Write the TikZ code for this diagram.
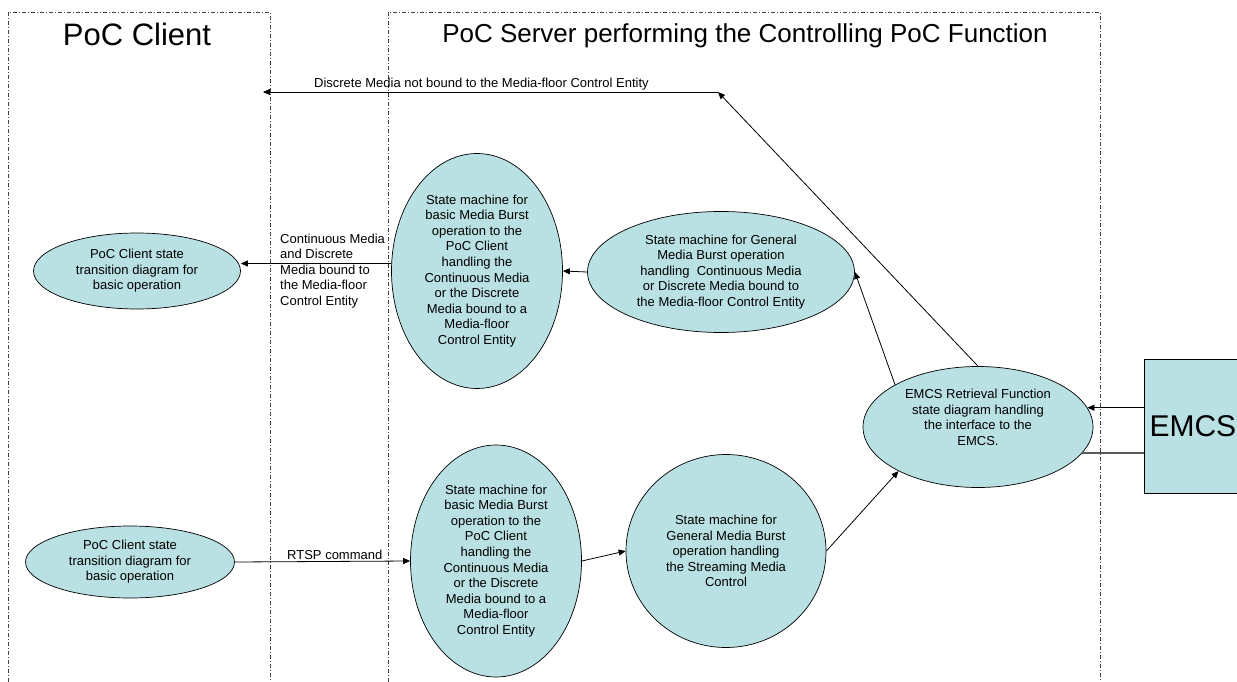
\documentclass[tikz,border=0pt]{standalone}
\usepackage{fontspec}
\setmainfont{Liberation Sans}
\usetikzlibrary{shapes.geometric,arrows.meta}
\definecolor{pocblue}{RGB}{185,224,227}
\newcommand\txt{\fontsize{13}{15.6}\selectfont}
\newcommand\bigtxt{\fontsize{30}{36}\selectfont}

\begin{document}
\begin{tikzpicture}[
      x=1pt, y=-1pt,
      blob/.style = {
        ellipse,
        draw=black,
        line width=0.7pt,
        fill=pocblue,
        inner sep=0pt,
        align=center,
        font=\txt,
      },
      arr/.style = {
        draw=black,
        line width=0.8pt,
        -{Triangle[length=7pt,width=6pt]},
      },
      lane/.style = {
        draw=black!75,
        line width=0.7pt,
        dash pattern=on 4pt off 2pt on 1pt off 2pt,
      },
      lbl/.style = {
        font=\txt,
        inner sep=1pt,
      },
    ]
      \useasboundingbox (0, 0) rectangle (1237, 682);
      % swim lanes
      \draw[lane] (8, 682) -- (8, 12) -- (270, 12) -- (270, 682);
      \draw[lane] (388, 682) -- (388, 12) -- (1100, 12) -- (1100, 682);
      \node[anchor=base, font=\fontsize{31}{37}\selectfont] (clienttitle) at (137, 46) {PoC Client};
      \node[anchor=base, font=\fontsize{26}{31}\selectfont] (servertitle) at (745, 43) {PoC Server performing the Controlling PoC Function};

      % state machines
      \node[blob, minimum width=207, minimum height=76] (C1) at (137, 271) {PoC Client state\\transition diagram for\\basic operation};
      \node[blob, minimum width=171, minimum height=235] (M1) at (477, 271) {State machine for\\basic Media Burst\\operation to the\\PoC Client\\handling the\\Continuous Media\\or the Discrete\\Media bound to a\\Media-floor\\Control Entity};
      \node[blob, minimum width=267, minimum height=121] (M2) at (721, 272) {State machine for General\\Media Burst operation\\handling\ \ Continuous Media\\or Discrete Media bound to\\the Media-floor Control Entity};
      \node[blob, minimum width=230, minimum height=121] (E) at (978, 427) {EMCS Retrieval Function\\state diagram handling\\the interface to the\\EMCS.\\[4pt]};
      \node[blob, minimum width=209, minimum height=72] (C2) at (130, 562) {PoC Client state\\transition diagram for\\basic operation};
      \node[blob, minimum width=171, minimum height=232] (M3) at (496, 561) {State machine for\\basic Media Burst\\operation to the\\PoC Client\\handling the\\Continuous Media\\or the Discrete\\Media bound to a\\Media-floor\\Control Entity};
      \node[blob, minimum width=200, minimum height=193] (S) at (726, 551) {State machine for\\General Media Burst\\operation handling\\the Streaming Media\\Control};
      \node[draw=black, line width=0.7pt, fill=pocblue, minimum width=97, minimum height=134, inner sep=0pt, font=\bigtxt, anchor=west] (emcs) at (1144, 426) {EMCS};

      % connectors
      \coordinate (bend) at (718, 92);
      \coordinate (discend) at (263, 92);
      \draw[arr] (E.north) -- (bend);
      \draw[arr] (bend) -- node[lbl, above, pos=0.52] {Discrete Media not bound to the Media-floor Control Entity} (discend);
      \draw[arr] (M1.175) -- (M1.175 -| C1.east);
      \node[lbl, anchor=west, align=left] (contlbl) at (279, 271) {Continuous Media\\and Discrete\\Media bound to\\the Media-floor\\Control Entity};
      \draw[arr] (M2.west) -- (M1.east);
      \draw[arr] (E.153) -- (M2.east);
      \draw[arr] (emcs.west |- E.10) -- (E.10);
      \draw[line width=1.1pt, draw=black!65] (E.-14) -- (E.-14 -| emcs.west);
      \draw[arr] (C2.east) -- node[lbl, above, pos=0.57] {RTSP command} (M3.west);
      \draw[arr] (M3.east) -- (S.west);
      \draw[arr] (S.east) -- (E.209);
    \end{tikzpicture}
\end{document}
